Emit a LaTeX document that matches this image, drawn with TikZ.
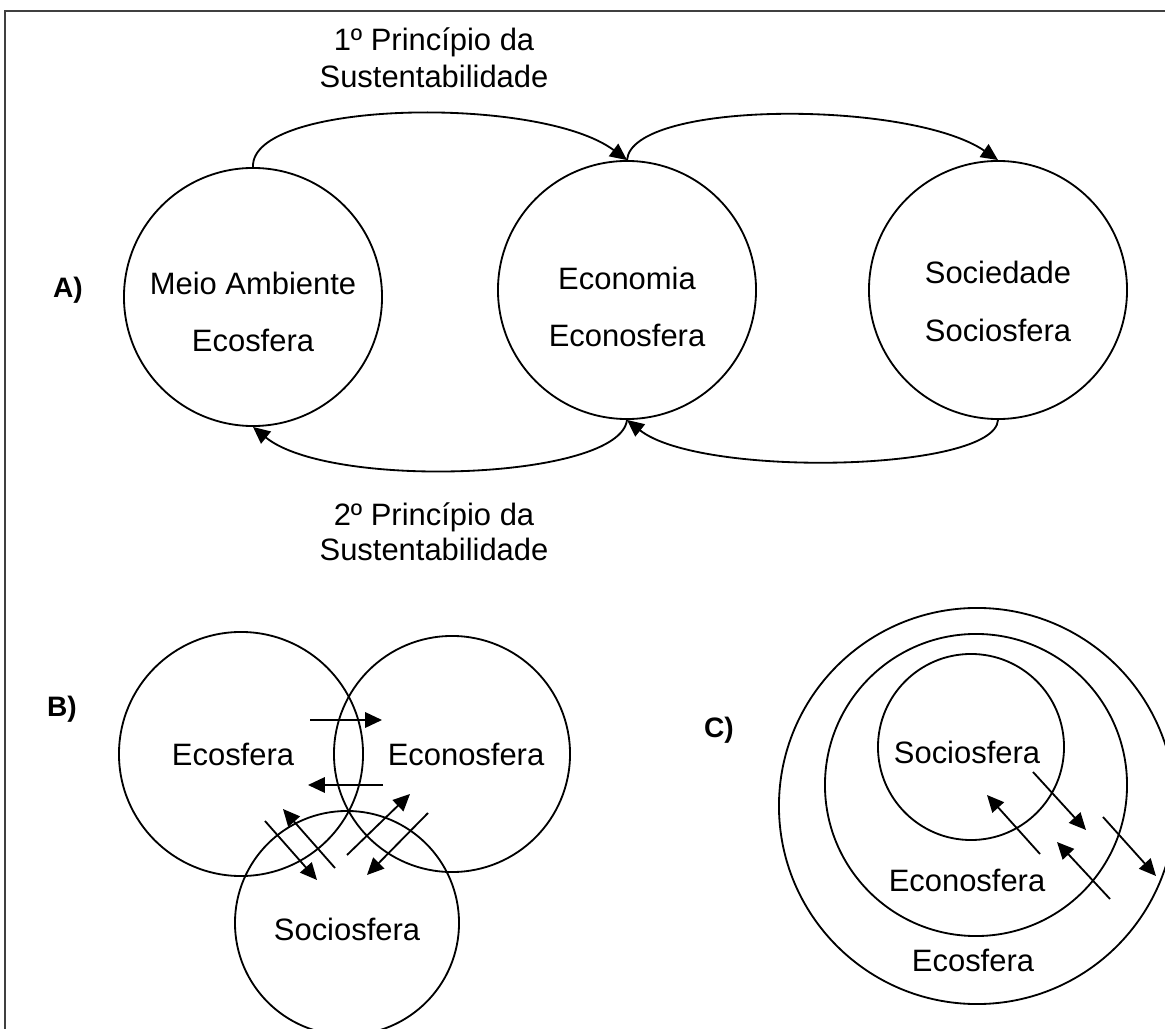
\documentclass[tikz,border=0pt]{standalone}
\usepackage{fontspec}
\setmainfont{Liberation Sans}
\usetikzlibrary{arrows.meta}

\tikzset{
  bubble/.style={draw, circle, line width=1.3pt, inner sep=0pt},
  lbl/.style={font=\fontsize{22}{26}\selectfont, inner sep=0pt},
  tag/.style={font=\fontsize{20}{24}\selectfont\bfseries, inner sep=0pt},
  flow/.style={line width=1.3pt, -{Triangle[length=12pt,width=11pt]}},
}

\begin{document}
\begin{tikzpicture}[x=0.025cm, y=-0.025cm]
  \useasboundingbox (0,0) rectangle (1165,1029);

  % frame
  \draw[line width=1.4pt, black!75] (5,1029) -- (5,11) -- (1165,11);

  % A) spheres side by side
  \node[tag] (tagA) at (68,290) {A)};
  \node[bubble, minimum size=6.45cm] (amb) at (253,297) {};
  \node[bubble, minimum size=6.45cm] (econ) at (627,290) {};
  \node[bubble, minimum size=6.45cm] (soc) at (998,290) {};

  \node[lbl] (ambA) at (253,283) {Meio Ambiente};
  \node[lbl] (ambB) at (253,340) {Ecosfera};
  \node[lbl] (econA) at (627,278) {Economia};
  \node[lbl] (econB) at (627,335) {Econosfera};
  \node[lbl] (socA) at (998,272) {Sociedade};
  \node[lbl] (socB) at (998,330) {Sociosfera};

  \node[lbl] (prinA) at (434,42) {1º Princípio da};
  \node[lbl] (prinB) at (434,76) {Sustentabilidade};
  \node[lbl] (prinC) at (434,517) {2º Princípio da};
  \node[lbl] (prinD) at (434,549) {Sustentabilidade};

  \draw[flow] (amb.north) .. controls (250,100) and (540,95) .. (econ.north);
  \draw[flow] (econ.north) .. controls (632,100) and (910,100) .. (soc.north);
  \draw[flow] (econ.south) .. controls (620,480) and (330,490) .. (amb.south);
  \draw[flow] (soc.south) .. controls (995,472) and (700,478) .. (econ.south);

  % B) overlapping spheres
  \node[tag] (tagB) at (62,709) {B)};
  \node[bubble, minimum size=6.1cm] (ecoB) at (241,754) {};
  \node[bubble, minimum size=5.9cm] (ecnB) at (452,754) {};
  \node[bubble, minimum size=5.6cm] (socB) at (347,923) {};
  \node[lbl] (ecoBt) at (233,754) {Ecosfera};
  \node[lbl] (ecnBt) at (466,754) {Econosfera};
  \node[lbl] (socBt) at (347,929) {Sociosfera};

  \foreach \sx/\sy/\ex/\ey [count=\i] in {310/720/382/720, 383/785/308/785,
      335/868/283/809, 265/821/317/880, 347/855/410/794, 428/813/367/875} {
    \coordinate (bs\i) at (\sx,\sy);
    \coordinate (be\i) at (\ex,\ey);
    \draw[flow] (bs\i) -- (be\i);
  }

  % C) nested spheres
  \node[tag] (tagC) at (719,730) {C)};
  \node[bubble, minimum size=9.9cm] (ecoC) at (977,806) {};
  \node[bubble, minimum size=7.55cm] (ecnC) at (976,785) {};
  \node[bubble, minimum size=4.65cm] (socC) at (971,747) {};
  \node[lbl] (socCt) at (967,752) {Sociosfera};
  \node[lbl] (ecnCt) at (967,880) {Econosfera};
  \node[lbl] (ecoCt) at (973,960) {Ecosfera};

  \foreach \sx/\sy/\ex/\ey [count=\i] in {1040/854/987/795, 1033/772/1086/830,
      1110/899/1057/842, 1103/817/1156/876} {
    \coordinate (cs\i) at (\sx,\sy);
    \coordinate (ce\i) at (\ex,\ey);
    \draw[flow] (cs\i) -- (ce\i);
  }
\end{tikzpicture}
\end{document}
